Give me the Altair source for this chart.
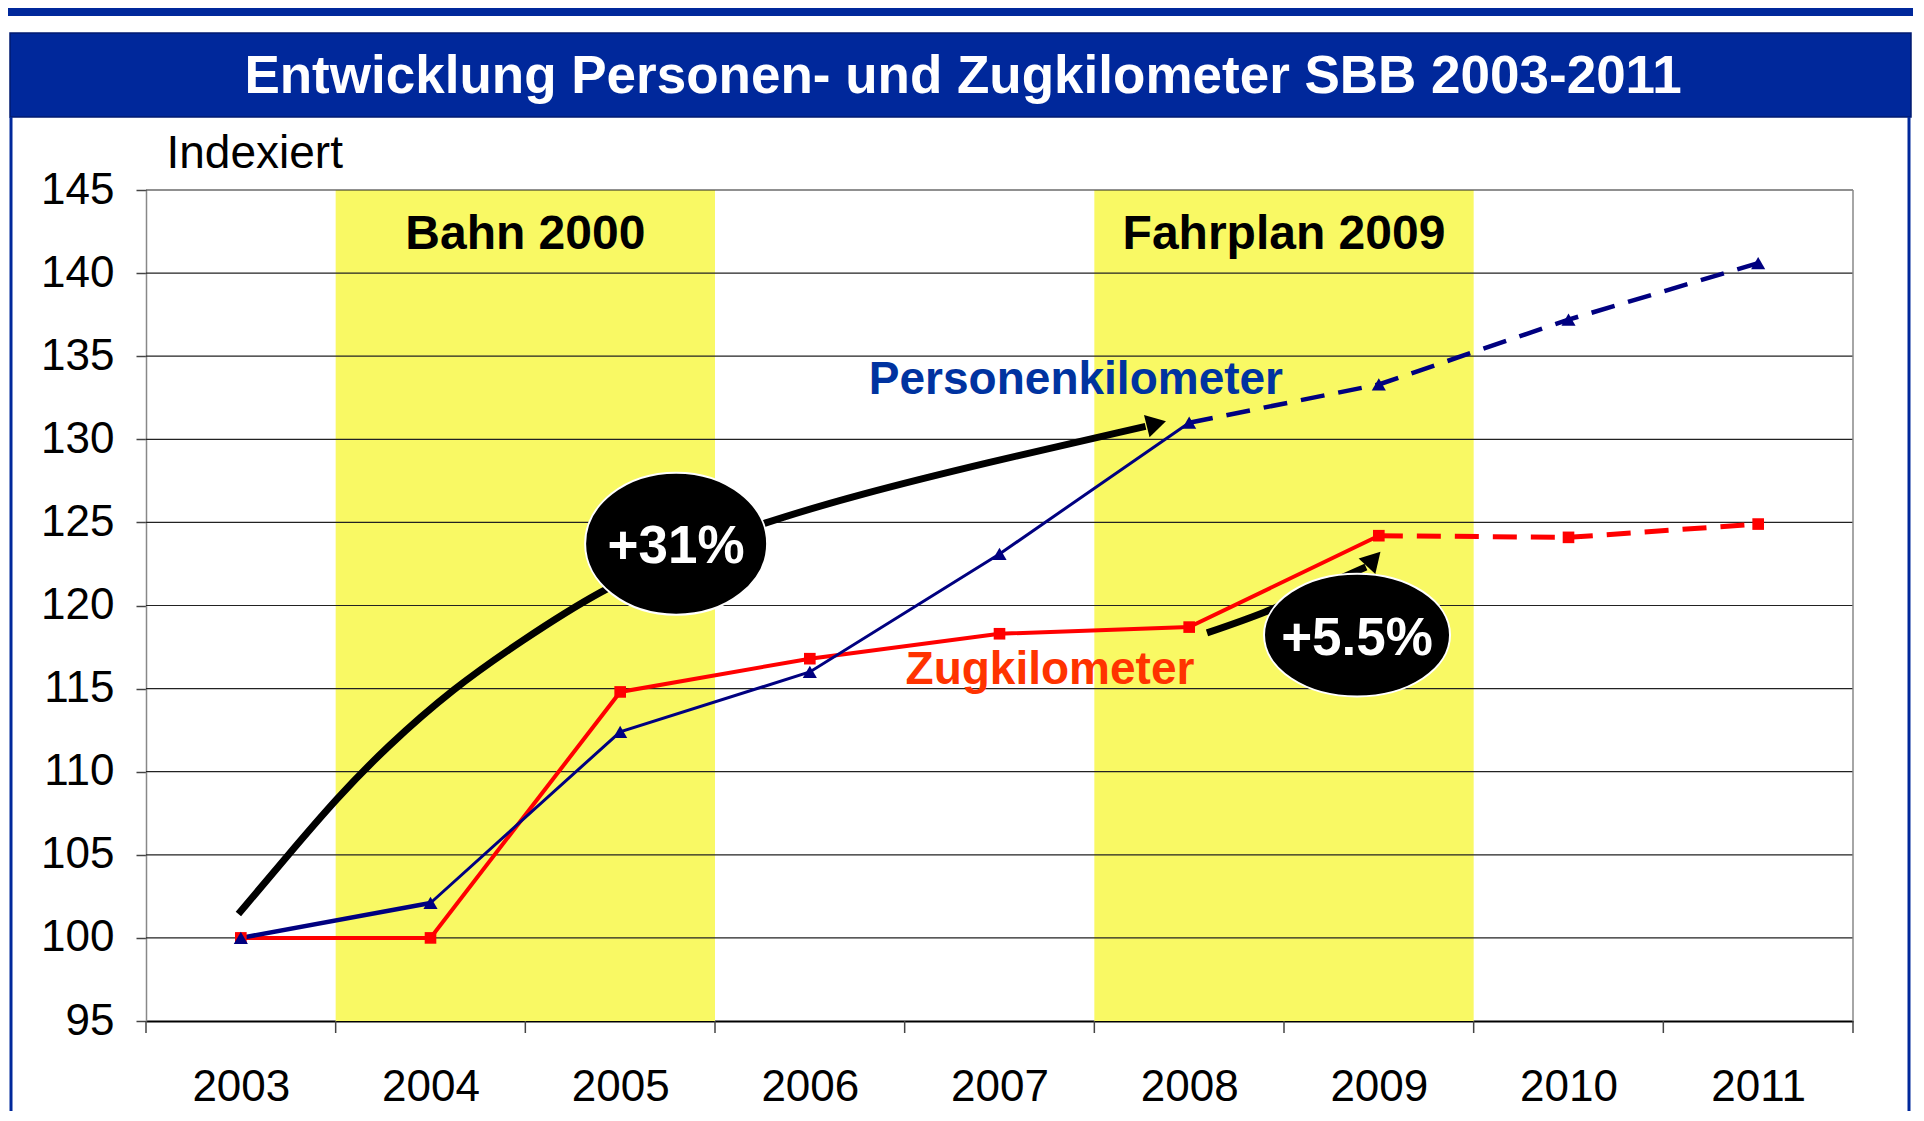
import altair as alt
import pandas as pd

# ---------------- data ----------------
years = [2003, 2004, 2005, 2006, 2007, 2008, 2009, 2010, 2011]
personenkm = [100.0, 102.1, 112.4, 116.0, 123.1, 131.0, 133.3, 137.2, 140.6]
zugkm = [100.0, 100.0, 114.8, 116.8, 118.3, 118.7, 124.2, 124.1, 124.9]
y_ticks = [95, 100, 105, 110, 115, 120, 125, 130, 135, 140, 145]
band_edges = [2002.5, 2003.5, 2004.5, 2005.5, 2006.5, 2007.5, 2008.5, 2009.5, 2010.5, 2011.5]
band_names = ["Bahn 2000", "Fahrplan 2009"]
band_first = [2004, 2008]
band_last = [2005, 2009]
title_text = "Entwicklung Personen- und Zugkilometer SBB 2003-2011"

# annotation geometry (data coordinates)
arrow1_x = [2002.987, 2003.242, 2003.505, 2003.769, 2004.120, 2004.472, 2004.894, 2005.330, 2005.774, 2006.259, 2006.906, 2007.770]
arrow1_y = [101.44, 104.89, 108.40, 111.50, 115.02, 117.82, 120.93, 123.20, 125.05, 126.68, 128.53, 130.78]
arrow2_x = [2008.094, 2008.400, 2008.742, 2008.932]
arrow2_y = [118.35, 119.61, 121.35, 122.32]

W, H = 1707, 831
PAD = {"left": 138, "top": 182, "right": 60, "bottom": 90}
FONT = "Liberation Sans"
NAVY = "#000080"
RED = "#FF0000"

xs = alt.Scale(domain=[2002.5, 2011.5], nice=False, zero=False)
ys = alt.Scale(domain=[95, 145], nice=False, zero=False)

series = pd.DataFrame({
    "year": years * 2,
    "value": personenkm + zugkm,
    "series": ["P"] * len(years) + ["Z"] * len(years),
})
bands_df = pd.DataFrame({"name": band_names, "first": band_first, "last": band_last})
grid_df = pd.DataFrame({"v": y_ticks[1:]})
edge_df = pd.DataFrame({"e": band_edges})

# ---------------- layers ----------------
bands = alt.Chart(bands_df).transform_calculate(
    x0="datum.first - 0.5", x1="datum.last + 0.5", y0="95", y1="145"
).mark_rect(color="#F9F964").encode(
    x=alt.X("x0:Q", scale=xs, axis=alt.Axis(
        values=years, format="d", title=None, ticks=False, tickSize=0, grid=False,
        domainColor="black", domainWidth=2, labelFontSize=44, labelFont=FONT,
        labelColor="black", labelPadding=66, labelBaseline="middle")),
    x2="x1:Q",
    y=alt.Y("y0:Q", scale=ys, axis=alt.Axis(
        values=y_ticks, title="Indexiert", grid=False, tickSize=10, tickColor="#444",
        tickWidth=1.5, domainColor="#888", domainWidth=1.5, labelFontSize=44,
        labelFont=FONT, labelColor="black", labelPadding=22,
        titleAngle=0, titleAlign="left", titleBaseline="middle", titleX=20, titleY=-37,
        titleFontSize=46, titleFontWeight="normal", titleFont=FONT, titleColor="black")),
    y2="y1:Q",
)

grid = alt.Chart(grid_df).transform_calculate(a="2002.5", b="2011.5").mark_rule(
    color="#222", strokeWidth=1.2).encode(
    x=alt.X("a:Q", scale=xs), x2="b:Q", y=alt.Y("v:Q", scale=ys))

right_border = alt.Chart(pd.DataFrame({"e": [band_edges[-1]]})).transform_calculate(
    lo="95", hi="145").mark_rule(color="#888", strokeWidth=1.5).encode(
    x=alt.X("e:Q", scale=xs), y=alt.Y("lo:Q", scale=ys), y2="hi:Q")

xticks = alt.Chart(edge_df).mark_rule(color="#444", strokeWidth=1.5).encode(
    x=alt.X("e:Q", scale=xs), y=alt.value(H), y2=alt.value(H + 12))

band_text = alt.Chart(bands_df).transform_calculate(
    xm="(datum.first + datum.last) / 2", ym="142.3"
).mark_text(font=FONT, fontSize=48, fontWeight="bold", color="black",
            baseline="middle", align="center").encode(
    x=alt.X("xm:Q", scale=xs), y=alt.Y("ym:Q", scale=ys), text="name:N")


def seg(ser, lo, hi, color, width, dash=None):
    kw = dict(color=color, strokeWidth=width, strokeCap="butt", strokeJoin="miter")
    if dash:
        kw["strokeDash"] = dash
    return alt.Chart(series).transform_filter(
        f"datum.series == '{ser}' && datum.year >= {lo} && datum.year <= {hi}"
    ).mark_line(**kw).encode(
        x=alt.X("year:Q", scale=xs), y=alt.Y("value:Q", scale=ys), order="year:Q")


red_a = seg("Z", 2003, 2009, RED, 4)
red_b = seg("Z", 2009, 2011, RED, 5, [24, 14])
blue_a = seg("P", 2003, 2004, NAVY, 4.5)
blue_b = seg("P", 2004, 2008, NAVY, 3)
blue_c = seg("P", 2008, 2011, NAVY, 4.5, [24, 14])

red_pts = alt.Chart(series).transform_filter("datum.series == 'Z'").mark_point(
    shape="square", filled=True, size=135, color=RED, opacity=1).encode(
    x=alt.X("year:Q", scale=xs), y=alt.Y("value:Q", scale=ys))
blue_pts = alt.Chart(series).transform_filter("datum.series == 'P'").mark_point(
    shape="triangle-up", filled=True, size=200, color=NAVY, opacity=1).encode(
    x=alt.X("year:Q", scale=xs), y=alt.Y("value:Q", scale=ys))

labels_df = pd.DataFrame({
    "x": [2007.403, 2007.266], "y": [133.57, 116.12],
    "t": ["Personenkilometer", "Zugkilometer"], "c": ["#0033A0", "#FF3300"]})
series_labels = alt.Chart(labels_df).mark_text(
    font=FONT, fontSize=46, fontWeight="bold", baseline="middle", align="center").encode(
    x=alt.X("x:Q", scale=xs), y=alt.Y("y:Q", scale=ys), text="t:N",
    color=alt.Color("c:N", scale=None))

a1 = pd.DataFrame({"x": arrow1_x, "y": arrow1_y, "o": list(range(len(arrow1_x)))})
a2 = pd.DataFrame({"x": arrow2_x, "y": arrow2_y, "o": list(range(len(arrow2_x)))})
arrow1 = alt.Chart(a1).mark_line(color="black", strokeWidth=7, interpolate="basis",
                                 strokeCap="butt").encode(
    x=alt.X("x:Q", scale=xs), y=alt.Y("y:Q", scale=ys), order="o:Q")
arrow2 = alt.Chart(a2).mark_line(color="black", strokeWidth=7, interpolate="monotone",
                                 strokeCap="butt").encode(
    x=alt.X("x:Q", scale=xs), y=alt.Y("y:Q", scale=ys), order="o:Q")

heads_df = pd.DataFrame({"x": [2007.827, 2008.973], "y": [130.94, 122.80], "a": [346, 313]})
heads = alt.Chart(heads_df).mark_point(
    shape="triangle-right", filled=True, size=520, color="black", opacity=1).encode(
    x=alt.X("x:Q", scale=xs), y=alt.Y("y:Q", scale=ys), angle=alt.Angle("a:Q", scale=None))

ell1 = alt.Chart(pd.DataFrame({"x": [2005.295], "y": [123.72]})).mark_point(
    shape="M-1,0A1,0.78 0 1,0 1,0A1,0.78 0 1,0 -1,0Z", size=182 * 182, filled=True,
    fill="black", stroke="white", strokeWidth=2, opacity=1).encode(
    x=alt.X("x:Q", scale=xs), y=alt.Y("y:Q", scale=ys))
ell2 = alt.Chart(pd.DataFrame({"x": [2008.885], "y": [118.22]})).mark_point(
    shape="M-1,0A1,0.66 0 1,0 1,0A1,0.66 0 1,0 -1,0Z", size=186 * 186, filled=True,
    fill="black", stroke="white", strokeWidth=2, opacity=1).encode(
    x=alt.X("x:Q", scale=xs), y=alt.Y("y:Q", scale=ys))

pct_df = pd.DataFrame({"x": [2005.295, 2008.885], "y": [123.5, 118.0], "t": ["+31%", "+5.5%"]})
pct = alt.Chart(pct_df).mark_text(font=FONT, fontSize=53, fontWeight="bold", color="white",
                                   baseline="middle", align="center").encode(
    x=alt.X("x:Q", scale=xs), y=alt.Y("y:Q", scale=ys), text="t:N")

# ---------------- frame / header ----------------
one = pd.DataFrame({"k": [0]})
RIGHT = W + PAD["right"]
top_bar = alt.Chart(one).mark_rect(color="#00289B").encode(
    x=alt.value(-PAD["left"]), x2=alt.value(RIGHT), y=alt.value(-182), y2=alt.value(-174))
head_box = alt.Chart(one).mark_rect(color="#00289B", stroke="#001A70", strokeWidth=1.5).encode(
    x=alt.value(-136), x2=alt.value(RIGHT - 2), y=alt.value(-157), y2=alt.value(-73))
head_text = alt.Chart(one).mark_text(font=FONT, fontSize=53, fontWeight="bold", color="white",
                                     baseline="middle", align="center").encode(
    x=alt.value(817), y=alt.value(-113), text=alt.value(title_text))
frame_l = alt.Chart(one).mark_rule(color="#00289B", strokeWidth=3).encode(
    x=alt.value(-135), y=alt.value(-73), y2=alt.value(H + PAD["bottom"]))
frame_r = alt.Chart(one).mark_rule(color="#00289B", strokeWidth=3).encode(
    x=alt.value(RIGHT - 4), y=alt.value(-73), y2=alt.value(H + PAD["bottom"]))

chart = alt.layer(
    bands, grid, right_border, xticks, band_text,
    red_a, red_b, blue_a, blue_b, blue_c, red_pts, blue_pts,
    series_labels, arrow1, arrow2, heads, ell1, ell2, pct,
    top_bar, head_box, head_text, frame_l, frame_r,
).properties(
    width=W, height=H,
    autosize=alt.AutoSizeParams(type="none"),
    padding=PAD,
    background="white",
).configure_view(stroke=None)

chart.save("out.html", embed_options={"renderer": "svg", "actions": False})
